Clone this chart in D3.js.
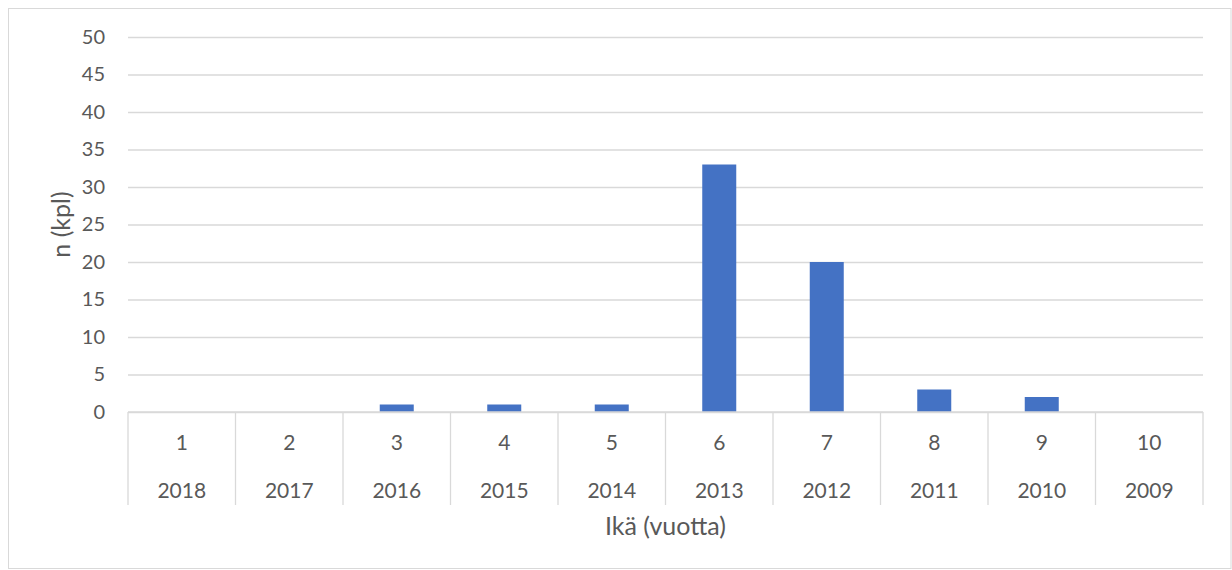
<!DOCTYPE html>
<html>
<head>
<meta charset="utf-8">
<script src="https://cdn.jsdelivr.net/npm/d3@7"></script>
<style>
  html, body { margin: 0; padding: 0; background: #fff; }
  svg text { font-family: Lato, "Open Sans", sans-serif; fill: #595959; }
</style>
</head>
<body>
<svg id="chart" width="1232" height="570"></svg>
<script>
// Age categories (years), matching birth years, and counts
const ages = ["1", "2", "3", "4", "5", "6", "7", "8", "9", "10"];
const years = ["2018", "2017", "2016", "2015", "2014", "2013", "2012", "2011", "2010", "2009"];
const counts = [0, 0, 1, 1, 1, 33, 20, 3, 2, 0];
const yTicks = [0, 5, 10, 15, 20, 25, 30, 35, 40, 45, 50];

const svg = d3.select("#chart");
const margin = { left: 128, right: 1203, top: 37, bottom: 412 };

// Outer chart frame
svg.append("rect")
  .attr("x", 8.5).attr("y", 8.5)
  .attr("width", 1222.5).attr("height", 560)
  .attr("fill", "#fff")
  .attr("stroke", "#d9d9d9").attr("stroke-width", 1);

const x = d3.scaleBand().domain(ages).range([margin.left, margin.right]).paddingInner(0).paddingOuter(0);
const y = d3.scaleLinear().domain([0, 50]).range([margin.bottom, margin.top]);

// Horizontal gridlines and y-axis labels
const yAxis = d3.axisLeft(y).tickValues(yTicks).tickSize(-(margin.right - margin.left)).tickPadding(23);
const gy = svg.append("g").attr("transform", `translate(${margin.left},0)`).call(yAxis);
gy.select(".domain").remove();
gy.selectAll(".tick line").attr("stroke", "#d9d9d9").attr("stroke-width", 1.3);
gy.selectAll(".tick text").attr("font-size", 20).style("fill", "#595959")
  .attr("font-family", "Lato, 'Open Sans', sans-serif");

// Bars
const bw = 34;
svg.append("g").selectAll("rect")
  .data(counts)
  .join("rect")
  .attr("x", (d, i) => x(ages[i]) + x.bandwidth() / 2 - bw / 2)
  .attr("y", d => y(d))
  .attr("width", bw)
  .attr("height", d => y(0) - y(d))
  .attr("fill", "#4472c4");

// Category axis: baseline and separators
const axisG = svg.append("g");
axisG.append("line")
  .attr("x1", margin.left).attr("x2", margin.right)
  .attr("y1", y(0)).attr("y2", y(0))
  .attr("stroke", "#d9d9d9").attr("stroke-width", 1.3);
const edges = ages.map(a => x(a)).concat([margin.right]);
axisG.selectAll("line.sep")
  .data(edges)
  .join("line")
  .attr("class", "sep")
  .attr("x1", d => d).attr("x2", d => d)
  .attr("y1", y(0)).attr("y2", 505)
  .attr("stroke", "#d9d9d9").attr("stroke-width", 1.3);

// Two-level category labels
axisG.selectAll("text.age")
  .data(ages)
  .join("text")
  .attr("class", "age")
  .attr("x", d => x(d) + x.bandwidth() / 2)
  .attr("y", 450)
  .attr("text-anchor", "middle")
  .attr("font-size", 21)
  .text(d => d);
axisG.selectAll("text.year")
  .data(years)
  .join("text")
  .attr("class", "year")
  .attr("x", (d, i) => x(ages[i]) + x.bandwidth() / 2)
  .attr("y", 498)
  .attr("text-anchor", "middle")
  .attr("font-size", 21)
  .text(d => d);

// Axis titles
svg.append("text")
  .attr("x", (margin.left + margin.right) / 2)
  .attr("y", 535)
  .attr("text-anchor", "middle")
  .attr("font-size", 25)
  .text("Ikä (vuotta)");
svg.append("text")
  .attr("transform", `translate(70,${(margin.top + margin.bottom) / 2}) rotate(-90)`)
  .attr("text-anchor", "middle")
  .attr("font-size", 25)
  .text("n (kpl)");
</script>
</body>
</html>
